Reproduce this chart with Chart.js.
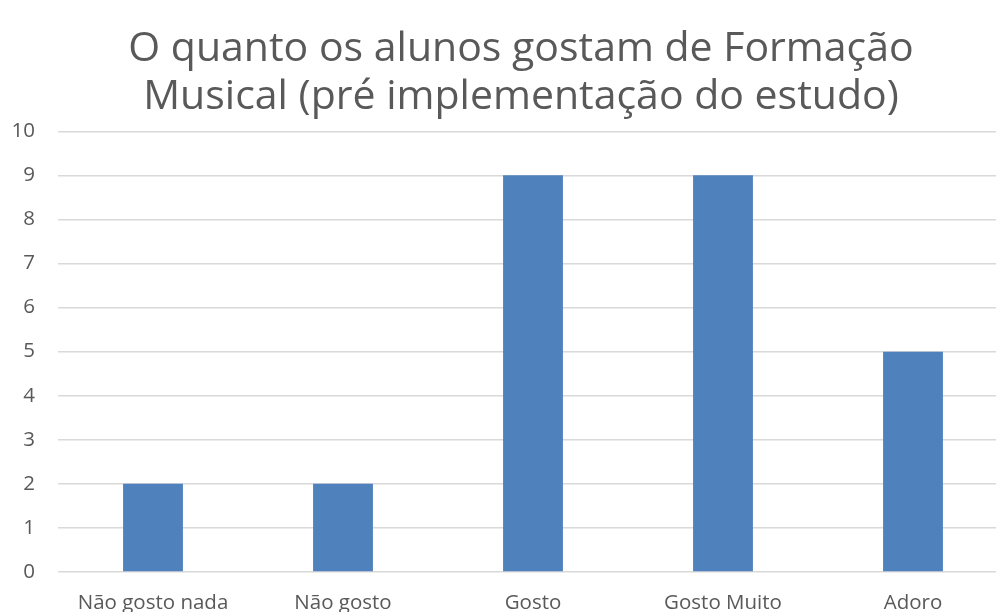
<!DOCTYPE html>
<html>
<head>
<meta charset="utf-8">
<script src="https://cdn.jsdelivr.net/npm/chart.js@4/dist/chart.umd.min.js"></script>
<style>
  html, body { margin: 0; padding: 0; background: #fff; overflow: hidden; }
  #wrap { width: 996px; height: 612px; overflow: hidden; }
</style>
</head>
<body>
<div id="wrap"><canvas id="chart" width="1010" height="612"></canvas></div>
<script>
const categories = ["Não gosto nada", "Não gosto", "Gosto", "Gosto Muito", "Adoro"];
const votes = [2, 2, 9, 9, 5];
const titleLines = ["O quanto os alunos gostam de Formação", "Musical (pré implementação do estudo)"];

const textColor = "#595959";
const fontFamily = "'Open Sans', sans-serif";

// the plot runs a little past the visible edge, so centre the title on the visible part
const centerTitle = {
  id: "centerTitle",
  afterLayout(chart) {
    const t = chart.titleBlock;
    if (t) {
      t.left = chart.chartArea.left;
      t.right = 984;
      t.width = t.right - t.left;
    }
  }
};

const ctx = document.getElementById("chart");
const myChart = new Chart(ctx, {
  type: "bar",
  data: {
    labels: categories,
    datasets: [{
      label: "Alunos",
      data: votes,
      backgroundColor: "#4f81bd",
      borderWidth: 0,
      categoryPercentage: 1,
      barPercentage: 0.315
    }]
  },
  options: {
    responsive: false,
    animation: false,
    layout: { padding: { left: 0, right: 2, top: 0, bottom: 0 } },
    plugins: {
      legend: { display: false },
      tooltip: { enabled: false },
      title: {
        display: true,
        text: titleLines,
        color: textColor,
        font: { family: fontFamily, size: 41, weight: "normal", lineHeight: 1.18 },
        padding: { top: 25, bottom: 9.5 }
      }
    },
    scales: {
      x: {
        grid: { display: false },
        border: { display: false },
        ticks: {
          color: textColor,
          font: { family: fontFamily, size: 20.5 },
          padding: 11,
          maxRotation: 0,
          autoSkip: false
        },
        afterFit(scale) { scale.height = 40; }
      },
      y: {
        min: 0,
        max: 10,
        grid: { color: "#d9d9d9", lineWidth: 1.5, drawTicks: false },
        border: { display: false },
        ticks: {
          stepSize: 1,
          color: textColor,
          font: { family: fontFamily, size: 20.5 },
          padding: 23
        },
        afterFit(scale) { scale.width = 58; }
      }
    }
  },
  plugins: [centerTitle]
});
</script>
</body>
</html>
